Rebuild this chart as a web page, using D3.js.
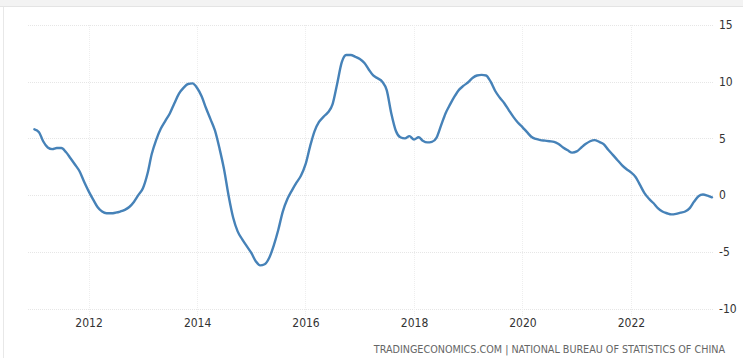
<!DOCTYPE html>
<html>
<head>
<meta charset="utf-8">
<script src="https://cdn.jsdelivr.net/npm/d3@7/dist/d3.min.js"></script>
<style>
  html, body { margin: 0; padding: 0; background: #fff; }
  svg { display: block; }
  .lbl { font-family: "Liberation Sans Narrow", "DejaVu Sans Condensed", "Liberation Sans", sans-serif; }
</style>
</head>
<body>
<svg id="chart" width="743" height="358"></svg>
<script>
// ---- Data (monthly, Jan 2011 .. Jul 2023) ----
const startYear = 2011;
const startMonth = 0; // January
const values = [
  5.8, 5.55, 4.75, 4.2, 4.05, 4.15, 4.15, 3.8, 3.25, 2.7, 2.1, 1.2,
  0.35, -0.4, -1.05, -1.45, -1.6, -1.6, -1.55, -1.45, -1.3, -1.05, -0.6, 0.0,
  0.6, 1.9, 3.6, 4.9, 5.85, 6.55, 7.2, 8.1, 8.95, 9.45, 9.8, 9.85,
  9.45, 8.7, 7.7, 6.7, 5.7, 4.1, 2.3, -0.05, -2.0, -3.2, -3.9, -4.5,
  -5.1, -5.85, -6.2, -6.1, -5.55, -4.45, -3.1, -1.45, -0.35, 0.4, 1.1, 1.7,
  2.7, 4.3, 5.6, 6.45, 6.9, 7.3, 8.0, 9.8, 11.7, 12.35, 12.35, 12.2,
  12.0, 11.65, 11.1, 10.55, 10.3, 10.0, 9.25, 7.2, 5.65, 5.1, 5.0, 5.2,
  4.9, 5.1, 4.8, 4.65, 4.7, 5.05, 6.1, 7.2, 8.0, 8.7, 9.3, 9.65,
  9.95, 10.35, 10.55, 10.6, 10.55, 10.0, 9.2, 8.6, 8.1, 7.5, 6.9, 6.4,
  6.0, 5.55, 5.15, 4.95, 4.85, 4.8, 4.75, 4.7, 4.5, 4.2, 3.95, 3.75,
  3.85, 4.2, 4.5, 4.75, 4.85, 4.7, 4.5, 4.0, 3.55, 3.1, 2.65, 2.3,
  2.0, 1.6, 0.95, 0.2, -0.3, -0.7, -1.15, -1.45, -1.6, -1.7, -1.65, -1.55,
  -1.45, -1.15, -0.6, -0.1, 0.05, -0.05, -0.2
];
const yTicks = [15, 10, 5, 0, -5, -10];
const xTickYears = [2012, 2014, 2016, 2018, 2020, 2022];
const sourceText = "TRADINGECONOMICS.COM | NATIONAL BUREAU OF STATISTICS OF CHINA";

const data = values.map((v, i) => ({ date: new Date(startYear, startMonth + i, 1), value: v }));

// ---- Layout ----
const svg = d3.select("#chart");
const W = 743, H = 358;

const x = d3.scaleTime()
  .domain([data[0].date, data[data.length - 1].date])
  .range([34.4, 712]);
const y = d3.scaleLinear().domain([-10, 15]).range([308.5, 25]);

// top band & left border
svg.append("rect").attr("x", 0).attr("y", 0).attr("width", W).attr("height", 6).attr("fill", "#f3f3f3");
svg.append("line").attr("x1", 0).attr("x2", W).attr("y1", 6.5).attr("y2", 6.5).attr("stroke", "#e4e4e4");
svg.append("line").attr("x1", 3.5).attr("x2", 3.5).attr("y1", 7).attr("y2", H).attr("stroke", "#e8e8e8");

// horizontal gridlines
svg.append("g").selectAll("line").data(yTicks).join("line")
  .attr("x1", 28).attr("x2", 714)
  .attr("y1", d => Math.round(y(d)) + 0.5).attr("y2", d => Math.round(y(d)) + 0.5)
  .attr("stroke", "#e6e6e6").attr("stroke-dasharray", "1,1");

// vertical gridlines
svg.append("g").selectAll("line").data(xTickYears).join("line")
  .attr("x1", d => Math.round(x(new Date(d, 0, 1))) + 0.5)
  .attr("x2", d => Math.round(x(new Date(d, 0, 1))) + 0.5)
  .attr("y1", 25).attr("y2", 316)
  .attr("stroke", "#eeeeee").attr("stroke-dasharray", "1,1");

// y-axis labels (right)
const yAxis = d3.axisRight(y).tickValues(yTicks).tickSize(0).tickPadding(0).tickFormat(d => String(d));
const gy = svg.append("g").attr("transform", "translate(719,0)").call(yAxis);
gy.select(".domain").remove();
gy.selectAll("text").attr("class", "lbl").attr("font-size", 12).attr("fill", "#333");

// x-axis labels
const xAxis = d3.axisBottom(x).tickValues(xTickYears.map(yr => new Date(yr, 0, 1)))
  .tickSize(0).tickPadding(0).tickFormat(d3.timeFormat("%Y"));
const gx = svg.append("g").attr("transform", "translate(0,318)").call(xAxis);
gx.select(".domain").remove();
gx.selectAll("text").attr("class", "lbl").attr("font-size", 12).attr("fill", "#333");

// line
const line = d3.line().x(d => x(d.date)).y(d => y(d.value)).curve(d3.curveMonotoneX);
svg.append("path").datum(data)
  .attr("d", line)
  .attr("fill", "none")
  .attr("stroke", "#4682b8")
  .attr("stroke-width", 2.4)
  .attr("stroke-linejoin", "round")
  .attr("stroke-linecap", "round");

// source text
svg.append("text").attr("class", "lbl")
  .attr("x", 725).attr("y", 353)
  .attr("text-anchor", "end")
  .attr("font-size", 10.7)
  .attr("fill", "#666")
  .text(sourceText);
</script>
</body>
</html>
